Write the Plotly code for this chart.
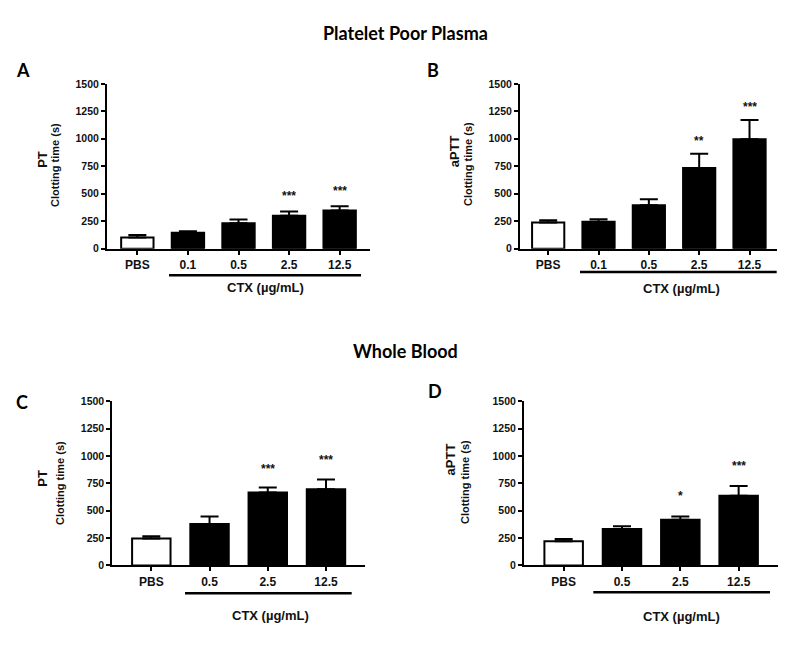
import plotly.graph_objects as go

W, H = 800, 648

# ---------------- data ----------------
cats_ppp = ["PBS", "0.1", "0.5", "2.5", "12.5"]
cats_wb = ["PBS", "0.5", "2.5", "12.5"]

pt_ppp_mean = [101, 145, 232, 300, 348]
pt_ppp_err = [24, 15, 33, 39, 39]
pt_ppp_sig = ["", "", "", "***", "***"]

aptt_ppp_mean = [238, 246, 395, 735, 996]
aptt_ppp_err = [21, 22, 54, 128, 176]
aptt_ppp_sig = ["", "", "", "**", "***"]

pt_wb_mean = [245, 379, 666, 697]
pt_wb_err = [21, 69, 45, 89]
pt_wb_sig = ["", "", "***", "***"]

aptt_wb_mean = [221, 332, 418, 637]
aptt_wb_err = [21, 27, 30, 89]
aptt_wb_sig = ["", "", "*", "***"]

y_ticks = [0, 250, 500, 750, 1000, 1250, 1500]

ARIAL = "Liberation Sans, Arial, sans-serif"
TITLEF = "Lato, Open Sans, sans-serif"
INK = "#111111"


def px(x):
    return x / W


def py(y):
    return 1 - y / H


panels = [
    dict(cats=cats_ppp, mean=pt_ppp_mean, err=pt_ppp_err, sig=pt_ppp_sig,
         xd=(107, 370), yd=(79.3, 247.3), xr=(-0.6, 4.6), bw=0.64,
         lab1="PT", lab2="Clotting time (s)", l1=(41.7, 156), l2=(55, 162),
         shift=15, letter="A", lpos=(23, 65), ctx=(169, 361, 274.3), ctxlab=(265, 287.3)),
    dict(cats=cats_ppp, mean=aptt_ppp_mean, err=aptt_ppp_err, sig=aptt_ppp_sig,
         xd=(520, 776.7), yd=(79.3, 247.3), xr=(-0.56, 4.54), bw=0.64,
         lab1="aPTT", lab2="Clotting time (s)", l1=(454, 148), l2=(468, 161),
         shift=13, letter="B", lpos=(433, 65), ctx=(580, 776.7, 271), ctxlab=(681.7, 288.3)),
    dict(cats=cats_wb, mean=pt_wb_mean, err=pt_wb_err, sig=pt_wb_sig,
         xd=(112.3, 365), yd=(402.7, 570), xr=(-0.67, 3.67), bw=0.66,
         lab1="PT", lab2="Clotting time (s)", l1=(41.7, 481), l2=(60, 486),
         shift=19, letter="C", lpos=(21.7, 403), ctx=(185, 351.7, 598.3), ctxlab=(270, 620.7)),
    dict(cats=cats_wb, mean=aptt_wb_mean, err=aptt_wb_err, sig=aptt_wb_sig,
         xd=(524, 778.3), yd=(402.7, 570), xr=(-0.68, 3.68), bw=0.66,
         lab1="aPTT", lab2="Clotting time (s)", l1=(450, 462), l2=(465, 485),
         shift=20, letter="D", lpos=(435, 392), ctx=(593.3, 770, 597.3), ctxlab=(681.7, 621.7)),
]

fig = go.Figure()
annotations = []
shapes = []

for i, p in enumerate(panels):
    k = "" if i == 0 else str(i + 1)
    xa, ya = "x" + k, "y" + k
    n = len(p["cats"])
    colors = ["white"] + ["black"] * (n - 1)
    fig.add_trace(go.Bar(
        x=p["cats"], y=p["mean"], xaxis=xa, yaxis=ya, width=p["bw"],
        marker=dict(color=colors, line=dict(color="black", width=2)),
        error_y=dict(type="data", array=p["err"], arrayminus=[0] * n, symmetric=False,
                     color="black", thickness=2, width=9),
        showlegend=False, hoverinfo="skip",
    ))
    fig.layout["xaxis" + k] = dict(
        domain=[px(p["xd"][0]), px(p["xd"][1])], anchor=ya, type="category",
        range=list(p["xr"]), showline=True, linecolor="black", linewidth=2,
        ticks="outside", ticklen=4, tickwidth=2, tickcolor="black",
        tickfont=dict(family=ARIAL, size=12, color=INK, weight="bold"),
        showgrid=False, zeroline=False, fixedrange=True,
    )
    fig.layout["yaxis" + k] = dict(
        domain=[py(p["yd"][1]), py(p["yd"][0])], anchor=xa,
        range=[0, 1500], tickvals=y_ticks, showline=True, linecolor="black",
        linewidth=2, ticks="outside", ticklen=4, tickwidth=2, tickcolor="black",
        tickfont=dict(family=ARIAL, size=10.5, color=INK, weight="bold"),
        showgrid=False, zeroline=False, fixedrange=True,
    )
    # significance stars (category index positions)
    for j, (m, e, s) in enumerate(zip(p["mean"], p["err"], p["sig"])):
        if s:
            annotations.append(dict(
                x=j, y=m + e, xref=xa, yref=ya, text=s, showarrow=False,
                yanchor="middle", yshift=p["shift"],
                font=dict(family=ARIAL, size=12, color=INK, weight="bold")))
    # y labels
    annotations.append(dict(x=px(p["l1"][0]), y=py(p["l1"][1]), xref="paper", yref="paper",
                            text=p["lab1"], textangle=-90, showarrow=False,
                            xanchor="center", yanchor="middle",
                            font=dict(family=ARIAL, size=13, color=INK, weight="bold")))
    annotations.append(dict(x=px(p["l2"][0]), y=py(p["l2"][1]), xref="paper", yref="paper",
                            text=p["lab2"], textangle=-90, showarrow=False,
                            xanchor="center", yanchor="middle",
                            font=dict(family=ARIAL, size=11, color=INK, weight="bold")))
    # panel letter
    annotations.append(dict(x=px(p["lpos"][0]), y=py(p["lpos"][1]), xref="paper", yref="paper",
                            text=p["letter"], showarrow=False, xanchor="center", yanchor="middle",
                            font=dict(family=TITLEF, size=18, color="black", weight="bold")))
    # CTX bracket line and label
    x0, x1, yl = p["ctx"]
    shapes.append(dict(type="line", xref="paper", yref="paper",
                       x0=px(x0), x1=px(x1), y0=py(yl), y1=py(yl),
                       line=dict(color="black", width=2.5)))
    annotations.append(dict(x=px(p["ctxlab"][0]), y=py(p["ctxlab"][1]), xref="paper", yref="paper",
                            text="CTX (µg/mL)", showarrow=False, xanchor="center", yanchor="middle",
                            font=dict(family=ARIAL, size=13, color=INK, weight="bold")))

annotations.append(dict(x=px(405), y=py(28), xref="paper", yref="paper", text="Platelet Poor Plasma",
                        showarrow=False, xanchor="center", yanchor="middle",
                        font=dict(family=TITLEF, size=18, color="black", weight="bold")))
annotations.append(dict(x=px(405), y=py(352), xref="paper", yref="paper", text="Whole Blood",
                        showarrow=False, xanchor="center", yanchor="middle",
                        font=dict(family=TITLEF, size=18, color="black", weight="bold")))

fig.update_layout(
    width=W, height=H, margin=dict(l=0, r=0, t=0, b=0),
    paper_bgcolor="white", plot_bgcolor="white",
    annotations=annotations, shapes=shapes, bargap=0.3,
)

fig.write_html("out.html", config={"displayModeBar": False},
               post_script="document.body.style.margin='0';")
